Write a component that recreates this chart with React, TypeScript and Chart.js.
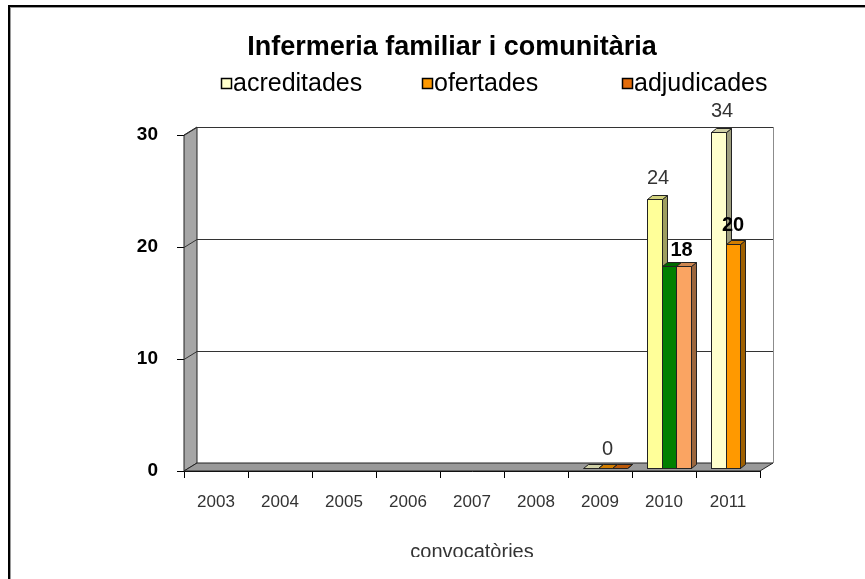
import React, { useEffect, useRef } from "react";
import { Chart, registerables } from "chart.js";

Chart.register(...registerables);

const chartTitle = "Infermeria familiar i comunitària";
const axisTitle = "convocatòries";
const years = ["2003", "2004", "2005", "2006", "2007", "2008", "2009", "2010", "2011"];
const seriesNames = ["acreditades", "ofertades", "adjudicades"];
const acreditades: (number | null)[] = [null, null, null, null, null, null, 0, 24, 34];
const ofertades: (number | null)[] = [null, null, null, null, null, null, 0, 18, 20];
const adjudicades: (number | null)[] = [null, null, null, null, null, null, 0, 18, null];
const yTicks = [0, 10, 20, 30];

const seriesColors = ["#FFFFCC", "#FF9900", "#E46C0A"];
const acreditadesColors = ["#FFFFCC", "#FFFFCC", "#FFFFCC", "#FFFFCC", "#FFFFCC", "#FFFFCC", "#FFFFCC", "#FFFF99", "#FFFFCC"];
const ofertadesColors = ["#FF9900", "#FF9900", "#FF9900", "#FF9900", "#FF9900", "#FF9900", "#FF9900", "#008000", "#FF9900"];
const adjudicadesColors = ["#E46C0A", "#E46C0A", "#E46C0A", "#E46C0A", "#E46C0A", "#E46C0A", "#E46C0A", "#FAA462", "#E46C0A"];

const FONT = '"Liberation Sans", Arial, sans-serif';

const WALL_DX = 13;
const WALL_DY = -8;
const BAR_SHIFT_X = 5;
const BAR_SHIFT_Y = -3;
const BAR_DX = 5;
const BAR_DY = -4;

function shade(hex: string, f: number): string {
  const h = hex.replace("#", "");
  const r = Math.round(parseInt(h.slice(0, 2), 16) * f);
  const g = Math.round(parseInt(h.slice(2, 4), 16) * f);
  const b = Math.round(parseInt(h.slice(4, 6), 16) * f);
  return `rgb(${r},${g},${b})`;
}

function poly(ctx: CanvasRenderingContext2D, pts: number[][], fill: string | null, stroke: string | null) {
  ctx.beginPath();
  ctx.moveTo(pts[0][0], pts[0][1]);
  for (let i = 1; i < pts.length; i++) ctx.lineTo(pts[i][0], pts[i][1]);
  ctx.closePath();
  if (fill) {
    ctx.fillStyle = fill;
    ctx.fill();
  }
  if (stroke) {
    ctx.strokeStyle = stroke;
    ctx.lineWidth = 1;
    ctx.stroke();
  }
}

const allSeries = [acreditades, ofertades, adjudicades];
const allColors = [acreditadesColors, ofertadesColors, adjudicadesColors];

const excel3d = {
  id: "excel3d",
  beforeDatasetsDraw(chart: any) {
    const { ctx, chartArea: ca, scales } = chart;
    const y = scales.y;
    ctx.save();
    poly(
      ctx,
      [
        [ca.left, ca.top],
        [ca.left + WALL_DX, ca.top + WALL_DY],
        [ca.left + WALL_DX, ca.bottom + WALL_DY],
        [ca.left, ca.bottom],
      ],
      "#A6A6A6",
      "#222"
    );
    poly(
      ctx,
      [
        [ca.left, ca.bottom],
        [ca.left + WALL_DX, ca.bottom + WALL_DY],
        [ca.right + WALL_DX, ca.bottom + WALL_DY],
        [ca.right, ca.bottom],
      ],
      "#999999",
      "#222"
    );
    ctx.strokeStyle = "#8C8C8C";
    ctx.lineWidth = 1;
    ctx.beginPath();
    ctx.moveTo(Math.round(ca.right + WALL_DX) + 0.5, ca.top + WALL_DY);
    ctx.lineTo(Math.round(ca.right + WALL_DX) + 0.5, ca.bottom + WALL_DY);
    ctx.stroke();
    for (const v of yTicks) {
      if (v === 0) continue;
      const py = Math.round(y.getPixelForValue(v)) + 0.5;
      ctx.strokeStyle = "#333";
      ctx.beginPath();
      ctx.moveTo(ca.left, py);
      ctx.lineTo(ca.left + WALL_DX, py + WALL_DY);
      ctx.lineTo(ca.right + WALL_DX, py + WALL_DY);
      ctx.stroke();
    }
    ctx.restore();
  },
  afterDatasetsDraw(chart: any) {
    const { ctx, chartArea: ca } = chart;
    ctx.save();
    const geo: any[][] = [];
    for (let i = 0; i < years.length; i++) {
      geo[i] = [];
      for (let d = 0; d < allSeries.length; d++) {
        const v = allSeries[d][i];
        const el = chart.getDatasetMeta(d).data[i];
        if (v == null || !el) {
          geo[i][d] = null;
          continue;
        }
        const p = el.getProps(["x", "y", "base", "width"], true);
        const top = Math.max(p.y, ca.top);
        const l = Math.round(p.x - p.width / 2 + BAR_SHIFT_X);
        const r = Math.round(p.x + p.width / 2 + BAR_SHIFT_X);
        const t = Math.round(top + BAR_SHIFT_Y);
        const b = Math.round(p.base + BAR_SHIFT_Y);
        geo[i][d] = { l, r, t, b, v };
        const col = allColors[d][i];
        const edge = "#222";
        if (b > t) {
          ctx.fillStyle = col;
          ctx.fillRect(l, t, r - l, b - t);
          ctx.strokeStyle = edge;
          ctx.lineWidth = 1;
          ctx.strokeRect(l + 0.5, t + 0.5, r - l, b - t);
        }
        poly(
          ctx,
          [
            [r + 0.5, t + 0.5],
            [r + BAR_DX + 0.5, t + BAR_DY + 0.5],
            [r + BAR_DX + 0.5, b + BAR_DY + 0.5],
            [r + 0.5, b + 0.5],
          ],
          shade(col, 0.62),
          edge
        );
        poly(
          ctx,
          [
            [l + 0.5, t + 0.5],
            [l + BAR_DX + 0.5, t + BAR_DY + 0.5],
            [r + BAR_DX + 0.5, t + BAR_DY + 0.5],
            [r + 0.5, t + 0.5],
          ],
          shade(col, 0.82),
          edge
        );
      }
    }
    ctx.textAlign = "center";
    ctx.textBaseline = "alphabetic";
    for (let i = 0; i < years.length; i++) {
      const g = geo[i];
      const present = g.filter((q) => q);
      if (present.length === 0) continue;
      if (present.every((q) => q.v === 0)) {
        const mid = g[1] || present[0];
        ctx.font = `20px ${FONT}`;
        ctx.fillStyle = "#333";
        ctx.fillText("0", (mid.l + mid.r) / 2 + BAR_DX / 2, mid.t + BAR_DY - 9);
        continue;
      }
      if (g[0]) {
        ctx.font = `20px ${FONT}`;
        ctx.fillStyle = "#333";
        ctx.fillText(String(g[0].v), (g[0].l + g[0].r) / 2 + BAR_DX / 2 + 1, g[0].t + BAR_DY - 11);
      }
      ctx.font = `bold 20px ${FONT}`;
      ctx.fillStyle = "#000";
      const a = g[1];
      const c = g[2];
      if (a && c && a.v === c.v) {
        ctx.fillText(String(a.v), (a.l + c.r) / 2 + BAR_DX, a.t + BAR_DY - 6);
      } else {
        for (const q of [a, c]) {
          if (q) ctx.fillText(String(q.v), (q.l + q.r) / 2, q.t + BAR_DY - 9);
        }
      }
    }
    ctx.restore();
  },
  afterDraw(chart: any) {
    const { ctx } = chart;
    ctx.save();
    ctx.fillStyle = "#fff";
    ctx.fillRect(11, 557, 865, 30);
    ctx.fillStyle = "#000";
    ctx.fillRect(8, 5, 865, 2);
    ctx.fillRect(8, 5, 2, 579);
    ctx.fillStyle = "#9A9A9A";
    ctx.fillRect(10, 7, 865, 1);
    ctx.fillRect(10, 7, 1, 579);
    ctx.fillStyle = "#000";
    ctx.font = `bold 27px ${FONT}`;
    ctx.textAlign = "center";
    ctx.textBaseline = "middle";
    ctx.fillText(chartTitle, 452, 48);
    const legendX = [221, 422, 622];
    ctx.font = `25px ${FONT}`;
    ctx.textAlign = "left";
    for (let k = 0; k < seriesNames.length; k++) {
      const bx = legendX[k];
      ctx.fillStyle = seriesColors[k];
      ctx.fillRect(bx, 78, 10, 10);
      ctx.strokeStyle = "#000";
      ctx.lineWidth = 1.5;
      ctx.strokeRect(bx + 0.5, 78.5, 10, 10);
      ctx.fillStyle = "#000";
      ctx.fillText(seriesNames[k], bx + 12, 84);
    }
    ctx.restore();
  },
};

export default function App() {
  const ref = useRef<HTMLCanvasElement | null>(null);
  useEffect(() => {
    if (!ref.current) return;
    const chart = new Chart(ref.current, {
      type: "bar",
      data: {
        labels: years,
        datasets: allSeries.map((s, d) => ({
          label: seriesNames[d],
          data: s,
          backgroundColor: "rgba(0,0,0,0)",
          borderWidth: 0,
          categoryPercentage: 0.68,
          barPercentage: 1.0,
        })),
      },
      options: {
        responsive: false,
        animation: false,
        devicePixelRatio: 1,
        layout: { padding: { top: 135, right: 105, left: 0, bottom: 0 } },
        plugins: {
          legend: { display: false },
          title: { display: false },
          tooltip: { enabled: false },
        },
        scales: {
          x: {
            type: "category",
            offset: true,
            grid: { display: true, offset: true, drawOnChartArea: false, drawTicks: true, tickLength: 7, color: "#000" },
            border: { display: true, color: "#000" },
            ticks: { font: { family: FONT, size: 17 }, color: "#333", padding: 14, maxRotation: 0, autoSkip: false },
            title: { display: true, text: axisTitle, font: { family: FONT, size: 20 }, color: "#333", padding: { top: 0, bottom: 15 } },
            afterFit: (s: any) => {
              s.height = 108;
            },
          },
          y: {
            min: 0,
            max: 30,
            ticks: {
              stepSize: 10,
              font: { family: FONT, size: 19, weight: "bold" },
              color: "#000",
              padding: 19,
            },
            grid: { display: true, drawOnChartArea: false, drawTicks: true, tickLength: 7, color: "#000" },
            border: { display: true, color: "#000" },
            afterFit: (s: any) => {
              s.width = 184;
            },
          },
        },
      },
      plugins: [excel3d],
    });
    return () => chart.destroy();
  }, []);
  return (
    <canvas
      ref={ref}
      width={865}
      height={579}
      style={{ position: "fixed", left: 0, top: 0, width: 865, height: 579 }}
    />
  );
}
